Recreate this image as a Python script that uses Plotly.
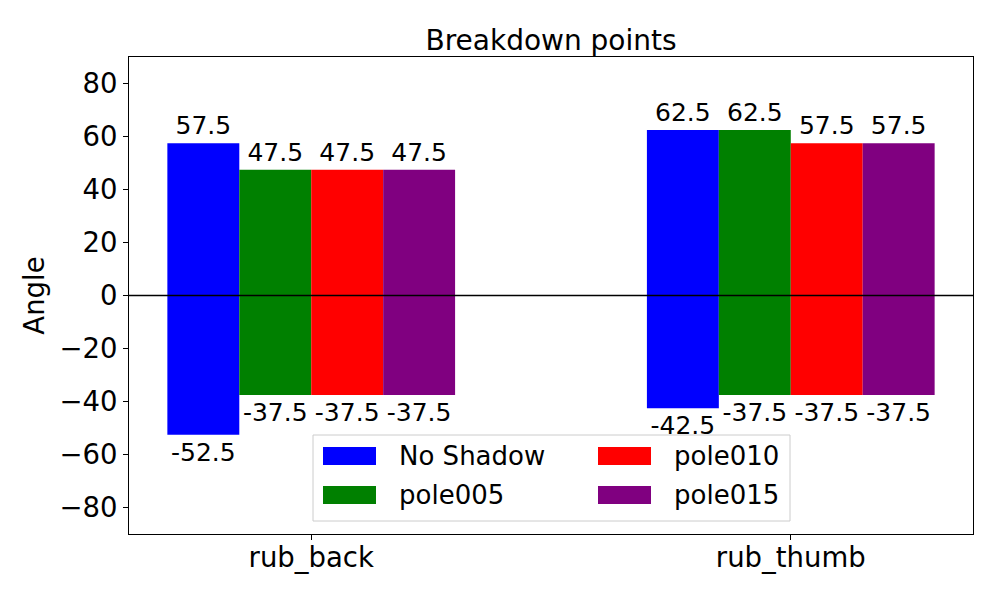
import plotly.graph_objects as go

categories = ["rub_back", "rub_thumb"]
series_names = ["No Shadow", "pole005", "pole010", "pole015"]
colors = ["blue", "green", "red", "purple"]
pos_values = {
    "No Shadow": [57.5, 62.5],
    "pole005": [47.5, 62.5],
    "pole010": [47.5, 57.5],
    "pole015": [47.5, 57.5],
}
neg_values = {
    "No Shadow": [-52.5, -42.5],
    "pole005": [-37.5, -37.5],
    "pole010": [-37.5, -37.5],
    "pole015": [-37.5, -37.5],
}
y_ticks = [-80, -60, -40, -20, 0, 20, 40, 60, 80]

W, H = 1000, 600
ML, MR, MT, MB = 129, 27, 57, 66
PW, PH = W - ML - MR, H - MT - MB
FONT = "DejaVu Sans"

bar_w = 0.15
offsets = [-0.225, -0.075, 0.075, 0.225]
xbase = list(range(len(categories)))

fig = go.Figure()
for name, col, off in zip(series_names, colors, offsets):
    xs = [b + off for b in xbase]
    for vals in (pos_values[name], neg_values[name]):
        fig.add_trace(go.Bar(
            x=xs, y=vals, width=bar_w, marker=dict(color=col, line=dict(width=0)),
            text=[f"{v}" for v in vals], textposition="outside",
            textfont=dict(family=FONT, size=25, color="black"),
            constraintext="none", cliponaxis=False, showlegend=False, name=name,
        ))

fig.add_shape(type="line", xref="paper", yref="y", x0=0, x1=1, y0=0, y1=0,
              line=dict(color="black", width=1.5), layer="above")

def px_x(p):
    return (p - ML) / PW

def px_y(p):
    return (H - MB - p) / PH

# legend (manual, two columns, column-major like matplotlib)
fig.add_shape(type="rect", xref="paper", yref="paper",
              x0=px_x(313), x1=px_x(790), y0=px_y(521), y1=px_y(435),
              line=dict(color="#cccccc", width=1), fillcolor="rgba(255,255,255,0.8)",
              layer="above")
leg_cols = [323, 598]
leg_rows = [456, 495]
for i, (name, col) in enumerate(zip(series_names, colors)):
    cx = leg_cols[i // 2]
    cy = leg_rows[i % 2]
    fig.add_shape(type="rect", xref="paper", yref="paper",
                  x0=px_x(cx), x1=px_x(cx + 53), y0=px_y(cy + 9), y1=px_y(cy - 9),
                  line=dict(width=0), fillcolor=col, layer="above")
    fig.add_annotation(xref="paper", yref="paper", x=px_x(cx + 74), y=px_y(cy),
                       text=name, showarrow=False, xanchor="left", yanchor="middle",
                       font=dict(family=FONT, size=26, color="black"))

fig.update_layout(
    width=W, height=H,
    margin=dict(l=ML, r=MR, t=MT, b=MB),
    barmode="overlay",
    plot_bgcolor="white", paper_bgcolor="white",
    showlegend=False,
    font=dict(family=FONT, color="black"),
    title=dict(text="Breakdown points", x=551 / W, xanchor="center",
               y=1 - 40 / H, yanchor="middle", font=dict(family=FONT, size=28, color="black")),
    xaxis=dict(range=[-0.38, 1.38], tickvals=xbase, ticktext=categories,
               showgrid=False, zeroline=False, showline=True, mirror=True,
               linecolor="black", linewidth=1, ticks="outside", ticklen=5,
               tickcolor="black", ticklabelstandoff=-6,
               tickfont=dict(family=FONT, size=27.5, color="black")),
    yaxis=dict(range=[-90, 90], tickvals=y_ticks, showgrid=False, zeroline=False,
               showline=True, mirror=True, linecolor="black", linewidth=1,
               ticks="outside", ticklen=5, tickcolor="black",
               tickfont=dict(family=FONT, size=27.5, color="black"),
               title=dict(text="Angle", font=dict(family=FONT, size=27.5, color="black"),
                          standoff=6)),
)

fig.write_html("out.html", config={"displayModeBar": False},
               post_script="document.body.style.margin='0';document.body.style.padding='0';")
